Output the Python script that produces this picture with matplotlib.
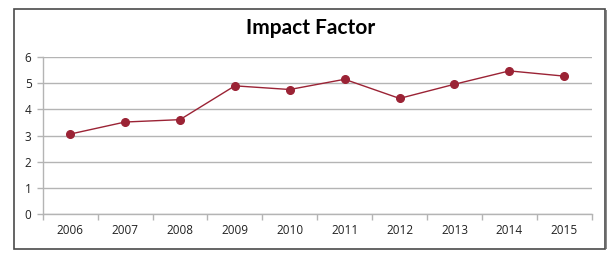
import matplotlib
matplotlib.use("Agg")
import matplotlib.pyplot as plt
from matplotlib.patches import Rectangle

years = ["2006", "2007", "2008", "2009", "2010", "2011", "2012", "2013", "2014", "2015"]
impact = [3.06, 3.52, 3.61, 4.90, 4.76, 5.15, 4.42, 4.96, 5.47, 5.27]
yticks = [0, 1, 2, 3, 4, 5, 6]

W, H = 616, 258
fig = plt.figure(figsize=(W / 100, H / 100), dpi=100)
fig.patch.set_facecolor("white")

x0, x1, ytop, ybot = 42.7, 591.7, 57.0, 214.3
ax = fig.add_axes([x0 / W, 1 - ybot / H, (x1 - x0) / W, (ybot - ytop) / H])

xs = list(range(len(years)))
ax.plot(xs, impact, color="#9B2335", linewidth=1.0, marker="o", markersize=5.5,
        markerfacecolor="#9B2335", markeredgecolor="#9B2335", zorder=3)

ax.set_xlim(-0.5, len(years) - 0.5)
ax.set_ylim(0, 6)
ax.set_yticks(yticks)
ax.set_yticklabels([str(v) for v in yticks])
ax.yaxis.grid(True, color="#B4B4B4", linewidth=1.0)
ax.set_axisbelow(True)

ax.set_xticks([i - 0.5 for i in range(len(years) + 1)])
ax.set_xticklabels([])
ax.set_xticks(xs, minor=True)
ax.set_xticklabels(years, minor=True)
ax.tick_params(axis="x", which="major", length=4, color="#B4B4B4", width=1.0, direction="out")
ax.tick_params(axis="x", which="minor", length=0, pad=7, labelsize=8.5)
ax.tick_params(axis="y", length=4, color="#B4B4B4", width=1.0, pad=4, labelsize=8.5)

for s in ["top", "right"]:
    ax.spines[s].set_visible(False)
for s in ["left", "bottom"]:
    ax.spines[s].set_color("#B4B4B4")
    ax.spines[s].set_linewidth(1.0)

for lab in ax.get_xticklabels(minor=True) + ax.get_yticklabels():
    lab.set_fontfamily(["Open Sans", "DejaVu Sans"])
    lab.set_color("#222222")

fig.text(311 / W, 1 - 28 / H, "Impact Factor", ha="center", va="center",
         fontsize=15, fontweight="bold", family=["Lato", "DejaVu Sans"], color="black")

# outer border
fig.patches.append(Rectangle((14 / W, 1 - 249 / H), (605 - 14) / W, (249 - 9) / H,
                             transform=fig.transFigure, fill=False,
                             edgecolor="#4A4A4A", linewidth=1.2))
fig.patches.append(Rectangle((605.5 / W, 1 - 249 / H), 1.5 / W, (249 - 10) / H,
                             transform=fig.transFigure, fill=True,
                             facecolor="#8A8A8A", edgecolor="none"))

fig.savefig("out.png", dpi=100)
